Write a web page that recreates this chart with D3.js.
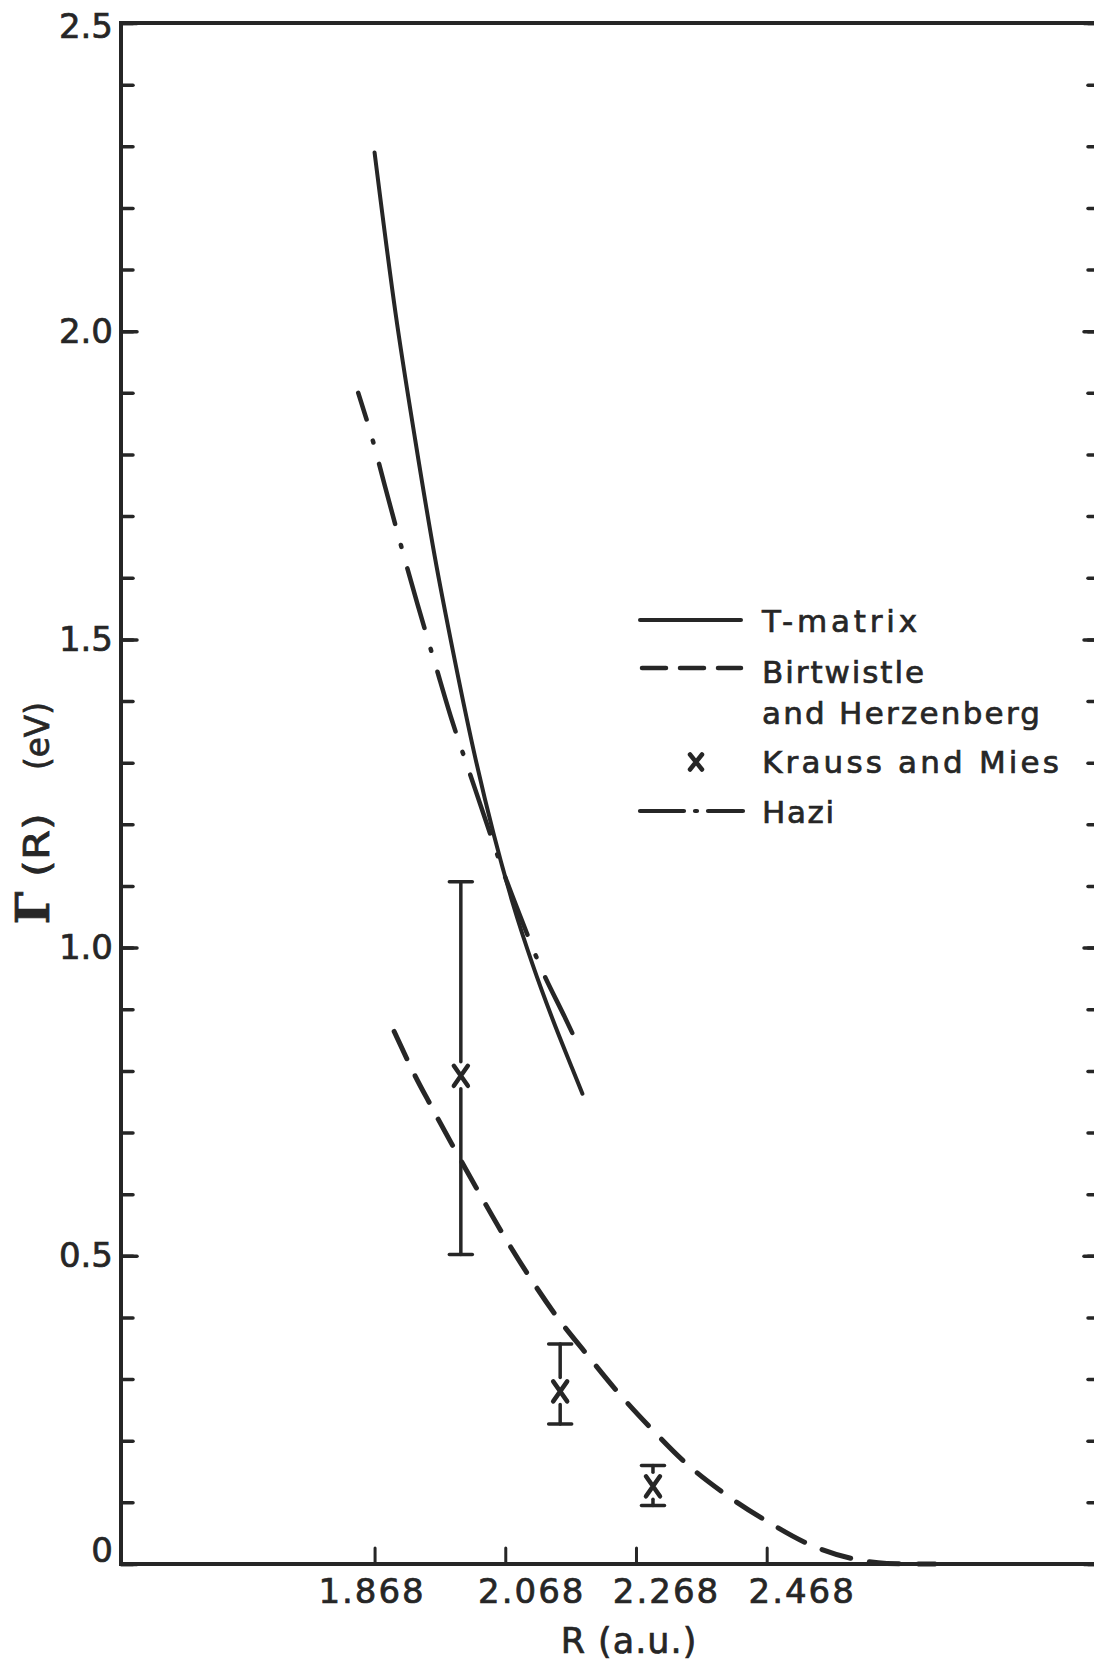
<!DOCTYPE html>
<html><head><meta charset="utf-8">
<script src="https://cdn.jsdelivr.net/npm/d3@7"></script>
<style>body{margin:0;background:#fff}svg{display:block}</style>
</head><body>
<svg id="c" width="1094" height="1667"></svg>
<script>
// ---------------- data ----------------
const tMatrixR = [1.868, 1.90, 1.93, 1.96, 1.99, 2.02, 2.05, 2.08, 2.11, 2.14, 2.17, 2.186];
const tMatrixG = [2.29, 2.03, 1.825, 1.635, 1.47, 1.318, 1.185, 1.07, 0.972, 0.885, 0.805, 0.763];

const birtR = [1.898, 1.931, 1.953, 1.991, 2.027, 2.065, 2.105, 2.147, 2.192, 2.240, 2.292, 2.346, 2.401, 2.469, 2.535, 2.598, 2.652, 2.726];
const birtG = [0.864, 0.790, 0.746, 0.672, 0.604, 0.534, 0.466, 0.401, 0.341, 0.279, 0.219, 0.162, 0.116, 0.069, 0.031, 0.009, 0.001, 0.0];

const haziR = [1.843, 1.866, 1.884, 1.908, 1.934, 1.961, 1.986, 2.013, 2.04, 2.066, 2.093, 2.121, 2.16, 2.181];
const haziG = [1.90, 1.82, 1.748, 1.654, 1.556, 1.459, 1.37, 1.285, 1.2, 1.12, 1.045, 0.971, 0.885, 0.838];

const kraussR = [2.0, 2.152, 2.294];
const kraussG = [0.792, 0.28, 0.126];
const kraussHi = [1.107, 0.357, 0.160];
const kraussLo = [0.502, 0.227, 0.095];

const xTicks = [1.868, 2.068, 2.268, 2.468];
const xTickLabels = ["1.868", "2.068", "2.268", "2.468"];
const yMajorTicks = [0, 0.5, 1.0, 1.5, 2.0, 2.5];
const yTickLabels = ["0", "0.5", "1.0", "1.5", "2.0", "2.5"];
const yMinorTicks = d3.range(0, 26).map(i => i / 10);

const legendLabels = ["T-matrix", "Birtwistle", "and Herzenberg", "Krauss and Mies", "Hazi"];

// ---------------- layout / style ----------------
const ink = "#262626";
const font = "'DejaVu Sans', 'Noto Sans', sans-serif";
const xLabelShift = [-3, 26, 30, 35];
const yLabelNudge = [-13, 0, 0, 0, 0, 4];
const textStroke = 0.7;

const svg = d3.select("#c");
svg.append("rect").attr("width", 1094).attr("height", 1667).attr("fill", "#fff");

const x = d3.scaleLinear().domain([1.48, 2.978]).range([121, 1100]);
const y = d3.scaleLinear().domain([0, 2.5]).range([1564, 23]);
const [x0, x1] = x.range();
const [yb, yt] = y.range();

// ---- axes ----
function styleAxis(g, sw) {
  g.select(".domain").remove();
  g.attr("color", ink).attr("font-family", font).attr("font-size", 34);
  g.selectAll(".tick line").attr("stroke-width", sw).attr("stroke-linecap", "round");
  g.selectAll(".tick text").attr("fill", ink).attr("stroke", ink).attr("stroke-width", textStroke);
}
// left
const gLmin = svg.append("g").attr("transform", `translate(${x0},0)`)
  .call(d3.axisLeft(y).tickValues(yMinorTicks).tickSize(-12).tickFormat(""));
styleAxis(gLmin, 3.5);
const gLmaj = svg.append("g").attr("transform", `translate(${x0},0)`)
  .call(d3.axisLeft(y).tickValues(yMajorTicks).tickSize(-16).tickPadding(8)
    .tickFormat((d, i) => yTickLabels[i]));
styleAxis(gLmaj, 3.5);
gLmaj.selectAll(".tick text").attr("transform", (d, i) => `translate(0,${yLabelNudge[i]})`);
// right (ticks only)
const gRmin = svg.append("g").attr("transform", `translate(${x1},0)`)
  .call(d3.axisRight(y).tickValues(yMinorTicks).tickSize(-12).tickFormat(""));
styleAxis(gRmin, 3.5);
const gRmaj = svg.append("g").attr("transform", `translate(${x1},0)`)
  .call(d3.axisRight(y).tickValues(yMajorTicks).tickSize(-16).tickFormat(""));
styleAxis(gRmaj, 3.5);
// bottom
const gB = svg.append("g").attr("transform", `translate(0,${yb})`)
  .call(d3.axisBottom(x).tickValues(xTicks).tickSize(-16).tickPadding(15)
    .tickFormat((d, i) => xTickLabels[i]));
styleAxis(gB, 3);
gB.selectAll(".tick text").attr("dx", (d, i) => xLabelShift[i]).attr("letter-spacing", 2);

// frame lines
const frame = svg.append("g").attr("stroke", ink).attr("stroke-width", 4).attr("stroke-linecap", "square");
frame.append("line").attr("x1", x0).attr("y1", yt).attr("x2", x0).attr("y2", yb);
frame.append("line").attr("x1", x0).attr("y1", yb).attr("x2", x1).attr("y2", yb);
frame.append("line").attr("x1", x0).attr("y1", yt).attr("x2", x1).attr("y2", yt);

// axis titles
svg.append("text").attr("x", 629).attr("y", 1653).attr("text-anchor", "middle")
  .attr("font-family", font).attr("font-size", 35).attr("letter-spacing", 1).attr("fill", ink)
  .attr("stroke", ink).attr("stroke-width", textStroke)
  .text("R (a.u.)");
const yTitle = [
  {t: "Γ", c: 908, f: "'DejaVu Serif', 'Liberation Serif', serif", s: 46, w: "bold", len: null},
  {t: "(R)", c: 845, f: font, s: 35, w: "normal", len: 64},
  {t: "(eV)", c: 736, f: font, s: 33, w: "normal", len: 68}
];
yTitle.forEach(p => {
  const t = svg.append("text").attr("transform", `translate(49,${p.c}) rotate(-90)`)
    .attr("text-anchor", "middle").attr("font-family", p.f).attr("font-size", p.s)
    .attr("font-weight", p.w).attr("fill", ink).attr("stroke", ink).attr("stroke-width", textStroke)
    .text(p.t);
  if (p.len) t.attr("textLength", p.len).attr("lengthAdjust", "spacingAndGlyphs");
});

// ---- curves ----
const line = d3.line().x(d => x(d[0])).y(d => y(d[1])).curve(d3.curveMonotoneX);
const zip = (a, b) => a.map((v, i) => [v, b[i]]);

svg.append("path").datum(zip(tMatrixR, tMatrixG)).attr("d", line)
  .attr("fill", "none").attr("stroke", ink).attr("stroke-width", 4).attr("stroke-linecap", "round");

svg.append("path").datum(zip(birtR, birtG)).attr("d", line)
  .attr("fill", "none").attr("stroke", ink).attr("stroke-width", 5).attr("stroke-linecap", "round")
  .attr("stroke-dasharray", "30 19");

svg.append("path").datum(zip(haziR, haziG)).attr("d", line)
  .attr("fill", "none").attr("stroke", ink).attr("stroke-width", 4.5).attr("stroke-linecap", "round")
  .attr("stroke-dasharray", "62 22 2 22").attr("stroke-dashoffset", 34);

// ---- Krauss and Mies error bars ----
function xMark(g, cx, cy, hw, hh) {
  g.append("path").attr("d", `M${cx - hw},${cy - hh}L${cx + hw},${cy + hh}M${cx + hw},${cy - hh}L${cx - hw},${cy + hh}`)
    .attr("fill", "none").attr("stroke", ink).attr("stroke-width", 4.5).attr("stroke-linecap", "round");
}
const eb = svg.append("g").attr("stroke", ink).attr("stroke-width", 3.5).attr("stroke-linecap", "round");
kraussR.forEach((r, i) => {
  const cx = x(r), cy = y(kraussG[i]), hi = y(kraussHi[i]), lo = y(kraussLo[i]);
  eb.append("line").attr("x1", cx).attr("x2", cx).attr("y1", hi).attr("y2", cy - 14);
  eb.append("line").attr("x1", cx).attr("x2", cx).attr("y1", cy + 13).attr("y2", lo);
  eb.append("line").attr("x1", cx - 11.5).attr("x2", cx + 11.5).attr("y1", hi).attr("y2", hi);
  eb.append("line").attr("x1", cx - 11.5).attr("x2", cx + 11.5).attr("y1", lo).attr("y2", lo);
  xMark(svg, cx, cy, 7, 10);
});

// ---- legend ----
const lg = svg.append("g");
const lx0 = 640, lx1 = 741, tx = 762;
const rows = [620, 668, 709, 762, 811];
const base = [632, 683, 724, 773, 823];
const widths = [155, 162, 278, 297, 72];
lg.append("line").attr("x1", lx0).attr("x2", lx1).attr("y1", rows[0]).attr("y2", rows[0])
  .attr("stroke", ink).attr("stroke-width", 4).attr("stroke-linecap", "round");
lg.append("line").attr("x1", lx0 + 2).attr("x2", lx1).attr("y1", rows[1]).attr("y2", rows[1])
  .attr("stroke", ink).attr("stroke-width", 4.5).attr("stroke-linecap", "round")
  .attr("stroke-dasharray", "24 14");
xMark(lg, 696, rows[3], 6, 7.5);
lg.append("line").attr("x1", lx0).attr("x2", lx1 + 2).attr("y1", rows[4]).attr("y2", rows[4])
  .attr("stroke", ink).attr("stroke-width", 4.2).attr("stroke-linecap", "round")
  .attr("stroke-dasharray", "44 11 2 11 60");
legendLabels.forEach((t, i) => {
  lg.append("text").attr("x", tx).attr("y", base[i]).attr("font-family", font)
    .attr("font-size", 31).attr("fill", ink).attr("stroke", ink).attr("stroke-width", textStroke)
    .attr("textLength", widths[i]).attr("lengthAdjust", "spacing").text(t);
});
</script>
</body></html>
